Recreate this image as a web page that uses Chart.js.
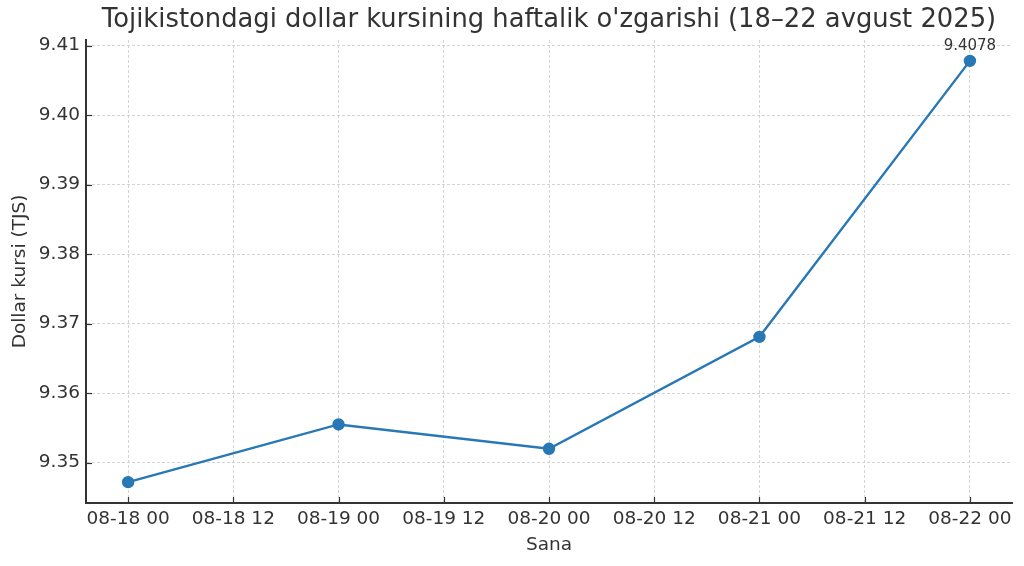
<!DOCTYPE html>
<html>
<head>
<meta charset="utf-8">
<script src="https://cdn.jsdelivr.net/npm/chart.js@4/dist/chart.umd.min.js"></script>
<style>
  html, body { margin: 0; padding: 0; background: #fff; }
  #wrap { width: 1024px; height: 566px; }
</style>
</head>
<body>
<div id="wrap"><canvas id="myChart" width="1024" height="566"></canvas></div>
<script>
// hours since 08-18 00:00
const hours = [0, 24, 48, 72, 96]
const rates = [9.3472, 9.3555, 9.3520, 9.3681, 9.4078]
const xTicks = [0, 12, 24, 36, 48, 60, 72, 84, 96]
const xTickLabels = ['08-18 00', '08-18 12', '08-19 00', '08-19 12', '08-20 00', '08-20 12', '08-21 00', '08-21 12', '08-22 00']
const yTicks = [9.35, 9.36, 9.37, 9.38, 9.39, 9.40, 9.41]
const chartTitle = "Tojikistondagi dollar kursining haftalik o'zgarishi (18–22 avgust 2025)"

const txt = '#333333'
const font = "'DejaVu Sans', sans-serif"

// matplotlib-like inward tick marks
const innerTicks = {
    id: 'innerTicks',
    afterDraw(chart) {
        const ctx = chart.ctx
        const x = chart.scales.x, y = chart.scales.y
        const a = chart.chartArea
        ctx.save()
        ctx.strokeStyle = txt
        ctx.lineWidth = 1.2
        x.ticks.forEach(t => {
            const px = Math.round(x.getPixelForValue(t.value)) + 0.5
            ctx.beginPath(); ctx.moveTo(px, a.bottom); ctx.lineTo(px, a.bottom - 6); ctx.stroke()
        })
        y.ticks.forEach(t => {
            const py = Math.round(y.getPixelForValue(t.value)) + 0.5
            ctx.beginPath(); ctx.moveTo(a.left, py); ctx.lineTo(a.left + 6, py); ctx.stroke()
        })
        ctx.restore()
    }
}

// title centred over the plot area + value label on the last point
const labels = {
    id: 'labels',
    afterDatasetsDraw(chart) {
        const ctx = chart.ctx
        const a = chart.chartArea
        ctx.save()
        ctx.fillStyle = txt
        ctx.textAlign = 'center'
        ctx.textBaseline = 'middle'
        ctx.font = '25.8px ' + font
        ctx.fillText(chartTitle, (a.left + a.right) / 2, 20)

        const p = chart.getDatasetMeta(0).data[rates.length - 1]
        ctx.font = '15px ' + font
        ctx.textBaseline = 'bottom'
        ctx.fillText(rates[rates.length - 1].toFixed(4), p.x, p.y - 7)
        ctx.restore()
    }
}

const ctx = document.getElementById('myChart')
new Chart(ctx, {
    type: 'line',
    data: {
        datasets: [{
            data: hours.map((h, i) => ({ x: h, y: rates[i] })),
            borderColor: '#2878b5',
            backgroundColor: '#2878b5',
            borderWidth: 2.4,
            pointRadius: 5,
            pointHoverRadius: 5,
            tension: 0
        }]
    },
    options: {
        responsive: false,
        animation: false,
        layout: { padding: { left: 0, right: 12, top: 40, bottom: 0 } },
        plugins: {
            legend: { display: false },
            tooltip: { enabled: false },
            title: { display: false }
        },
        scales: {
            x: {
                type: 'linear',
                min: -4.8,
                max: 100.8,
                afterBuildTicks: axis => { axis.ticks = xTicks.map(v => ({ value: v })) },
                afterFit: axis => { axis.height = 63 },
                ticks: {
                    color: txt,
                    font: { family: font, size: 18.5 },
                    padding: 5,
                    maxRotation: 0,
                    autoSkip: false,
                    callback: v => xTickLabels[xTicks.indexOf(v)]
                },
                grid: { color: '#cfcfcf', lineWidth: 0.9, drawTicks: false },
                border: { color: txt, width: 2, dash: [3, 2] },
                title: {
                    display: true,
                    text: 'Sana',
                    color: txt,
                    font: { family: font, size: 18.5 },
                    padding: { top: 0, bottom: 10 }
                }
            },
            y: {
                min: 9.3442,
                max: 9.4108,
                afterBuildTicks: axis => { axis.ticks = yTicks.map(v => ({ value: v })) },
                afterFit: axis => { axis.width = 86 },
                ticks: {
                    color: txt,
                    font: { family: font, size: 18.5 },
                    padding: 6,
                    callback: v => v.toFixed(2)
                },
                grid: { color: '#cfcfcf', lineWidth: 0.9, drawTicks: false },
                border: { color: txt, width: 2, dash: [3, 2] },
                title: {
                    display: true,
                    text: 'Dollar kursi (TJS)',
                    color: txt,
                    font: { family: font, size: 18.5 },
                    padding: { top: 9, bottom: 0 }
                }
            }
        }
    },
    plugins: [innerTicks, labels]
})
</script>
</body>
</html>
